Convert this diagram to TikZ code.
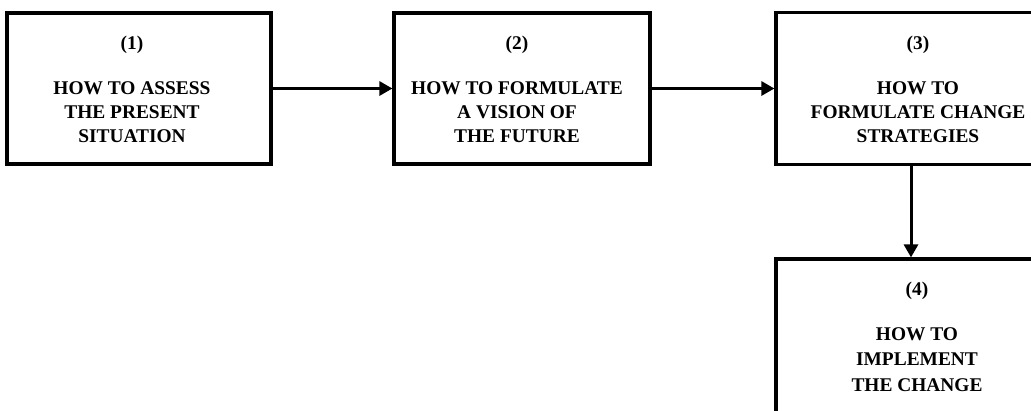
\documentclass[tikz,border=0pt]{standalone}
\usepackage{fontspec}
\setmainfont{Liberation Serif}
\usetikzlibrary{arrows.meta}
\begin{document}
\begin{tikzpicture}[x=1pt,y=-1pt,
  stagebox/.style={draw=black,line width=3.2pt,rectangle,inner sep=0pt},
  lbl/.style={align=center,font=\fontsize{19.4}{24}\selectfont\bfseries,inner sep=0pt},
  arr/.style={line width=3pt,-{Triangle[length=13pt,width=14pt]}}]
\useasboundingbox (0,0) rectangle (1031,410);
\clip (0,0) rectangle (1031,410);
\fill[white] (0,0) rectangle (1031,410);
% the four stages
\node[stagebox,minimum width=264pt,minimum height=151pt] (b1) at (139,88.5) {};
\node[stagebox,minimum width=256pt,minimum height=151pt] (b2) at (522,88.5) {};
\node[stagebox,minimum width=284pt,minimum height=152pt] (b3) at (918,88.5) {};
\node[stagebox,minimum width=284pt,minimum height=200pt] (b4) at (918,359) {};
% stage captions
\node[lbl] (t1) at (132,89) {(1)\\[21pt]HOW TO ASSESS\\THE PRESENT\\SITUATION};
\node[lbl] (t2) at (517,89) {(2)\\[21pt]HOW TO FORMULATE\\A VISION OF\\THE FUTURE};
\node[lbl] (t3) at (918,89) {(3)\\[21pt]HOW TO\\FORMULATE CHANGE\\STRATEGIES};
\node[lbl,font=\fontsize{19.4}{25.5}\selectfont\bfseries] (t4) at (917,337) {(4)\\[19pt]HOW TO\\IMPLEMENT\\THE CHANGE};
% connectors
\draw[arr] (b1.east) -- (b2.west);
\draw[arr] (b2.east) -- (b3.west);
\draw[arr] ([xshift=-7pt]b3.south) -- ([xshift=-7pt]b4.north);
\end{tikzpicture}
\end{document}
